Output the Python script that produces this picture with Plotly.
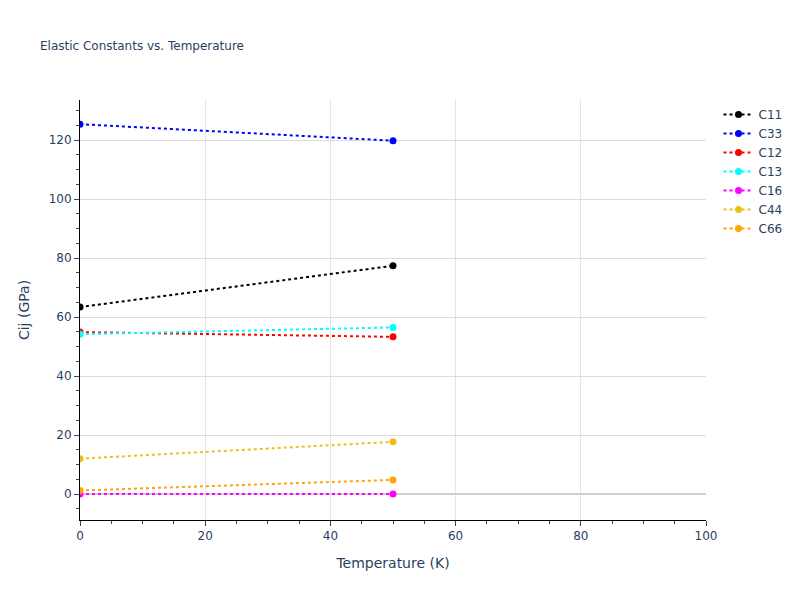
import plotly.graph_objects as go

temps = [0, 50]
names = ["C11", "C33", "C12", "C13", "C16", "C44", "C66"]
c11 = [63.4, 77.4]
c33 = [125.4, 119.8]
c12 = [54.9, 53.3]
c13 = [54.2, 56.5]
c16 = [0.0, 0.0]
c44 = [12.0, 17.7]
c66 = [1.2, 4.8]
colors = ["black", "blue", "red", "cyan", "magenta", "#EBC017", "orange"]
series = [c11, c33, c12, c13, c16, c44, c66]

fig = go.Figure()
for name, vals, col in zip(names, series, colors):
    fig.add_trace(go.Scatter(x=temps, y=vals, name=name, mode="lines+markers",
                             line=dict(color=col, dash="dot", width=2),
                             marker=dict(color=col, size=7)))

fig.update_layout(
    template="plotly_white",
    width=800, height=600,
    font=dict(family="DejaVu Sans"),
    title=dict(text="Elastic Constants vs. Temperature", font=dict(size=12)),
    xaxis=dict(title="Temperature (K)", range=[0, 100], showline=True, linecolor="black",
               ticks="outside", dtick=20, minor=dict(ticks="outside", dtick=5, showgrid=False),
               gridcolor="#e5e5e5", zeroline=False),
    yaxis=dict(title="Cij (GPa)", range=[-8.8, 133.6], showline=True, linecolor="black",
               ticks="outside", dtick=20, minor=dict(ticks="outside", dtick=5, showgrid=False),
               gridcolor="#dcdcdc", zeroline=True, zerolinecolor="#d0d0d0", zerolinewidth=2),
)
fig.write_html("out.html", config={"displayModeBar": False},
               post_script="document.body.style.margin='0';")
